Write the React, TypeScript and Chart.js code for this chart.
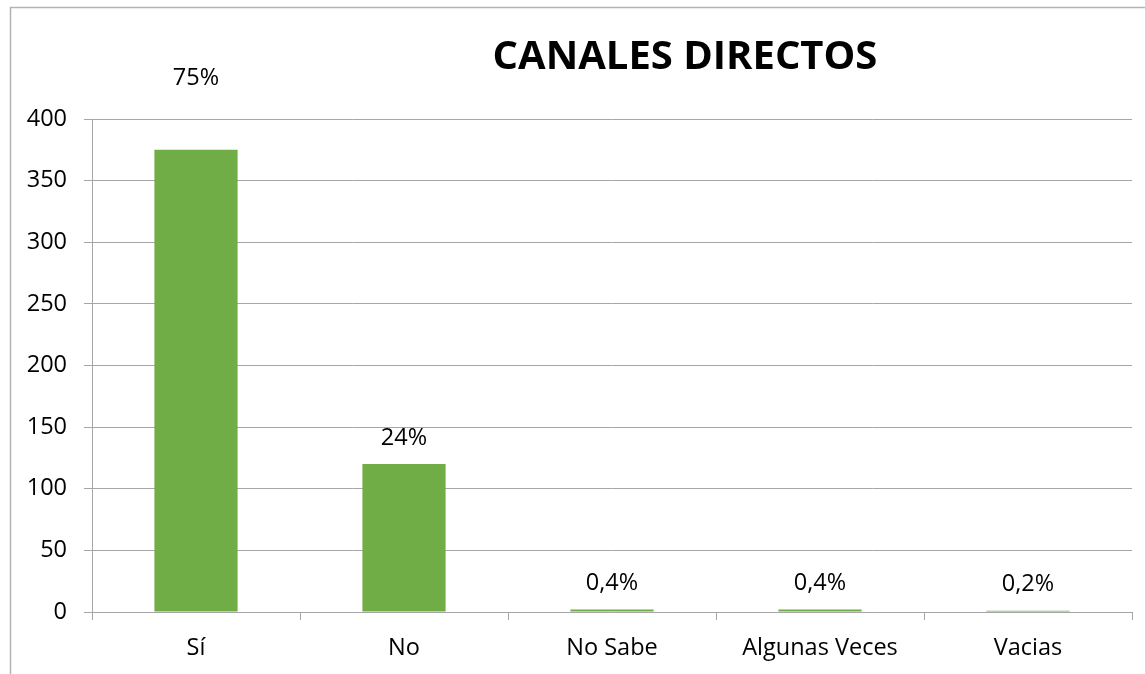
import React, { useEffect, useRef } from "react";
import { Chart, registerables } from "chart.js";

Chart.register(...registerables);

const TITLE = "CANALES DIRECTOS";
const categories = ["Sí", "No", "No Sabe", "Algunas Veces", "Vacias"];
const counts = [375, 120, 2, 2, 1];
const percentLabels = ["75%", "24%", "0,4%", "0,4%", "0,2%"];
const yTicks = [0, 50, 100, 150, 200, 250, 300, 350, 400];

const FONT = "'Open Sans', 'Liberation Sans', sans-serif";
const GRID = "#a6a6a6";
const TEXT_SIZE = 23.5;

const framePlugin = {
  id: "frame",
  beforeDraw(chart: any) {
    const ctx = chart.ctx;
    ctx.save();
    ctx.fillStyle = "#ffffff";
    ctx.fillRect(0, 0, chart.width, chart.height);
    ctx.strokeStyle = "#b3b3b3";
    ctx.lineWidth = 1.5;
    ctx.beginPath();
    ctx.moveTo(10.5, chart.height);
    ctx.lineTo(10.5, 7.5);
    ctx.lineTo(chart.width, 7.5);
    ctx.stroke();
    ctx.restore();
  },
};

const labelsPlugin = {
  id: "valueLabels",
  afterDatasetsDraw(chart: any, _args: any, opts: any) {
    const ctx = chart.ctx;
    const meta = chart.getDatasetMeta(0);
    ctx.save();
    ctx.font = `${TEXT_SIZE}px ${FONT}`;
    ctx.fillStyle = "#000000";
    ctx.textAlign = "center";
    ctx.textBaseline = "middle";
    meta.data.forEach((bar: any, i: number) => {
      const gap = opts.raised && opts.raised[i] != null ? opts.raised[i] : opts.gap;
      ctx.fillText(percentLabels[i], bar.x, bar.y - gap);
    });
    ctx.font = `bold 40px ${FONT}`;
    ctx.fillText(TITLE, opts.titleX, opts.titleY);
    ctx.restore();
  },
};

export default function App() {
  const ref = useRef<HTMLCanvasElement | null>(null);
  useEffect(() => {
    if (!ref.current) return;
    const chart = new Chart(ref.current, {
      type: "bar",
      data: {
        labels: categories,
        datasets: [
          {
            data: counts,
            backgroundColor: "#70ad47",
            borderWidth: 0,
            categoryPercentage: 1,
            barPercentage: 0.4,
          },
        ],
      },
      options: {
        animation: false,
        responsive: false,
        maintainAspectRatio: false,
        layout: { padding: { left: 0, right: 13, top: 119, bottom: 0 } },
        plugins: {
          legend: { display: false },
          tooltip: { enabled: false },
          title: { display: false },
          valueLabels: { gap: 26, raised: { 0: 72 }, titleX: 685, titleY: 58 },
        } as any,
        scales: {
          x: {
            grid: {
              offset: true,
              drawOnChartArea: false,
              drawTicks: true,
              tickLength: 8,
              color: GRID,
            },
            border: { color: GRID, width: 1 },
            ticks: {
              color: "#000000",
              font: { family: FONT, size: TEXT_SIZE },
              padding: 14,
              maxRotation: 0,
            },
            afterFit: (s: any) => {
              s.height = 62;
            },
          },
          y: {
            min: 0,
            max: 400,
            afterBuildTicks: (s: any) => {
              s.ticks = yTicks.map((v) => ({ value: v }));
            },
            grid: { color: GRID, tickLength: 8 },
            border: { color: GRID, width: 1 },
            ticks: {
              color: "#000000",
              font: { family: FONT, size: TEXT_SIZE },
              padding: 17,
            },
            afterFit: (s: any) => {
              s.width = 92;
            },
          },
        },
      },
      plugins: [framePlugin, labelsPlugin],
    });
    return () => chart.destroy();
  }, []);
  return (
    <div style={{ position: "fixed", left: 0, top: 0, width: 1145, height: 674 }}>
      <canvas ref={ref} width={1145} height={674} style={{ display: "block" }} />
    </div>
  );
}
